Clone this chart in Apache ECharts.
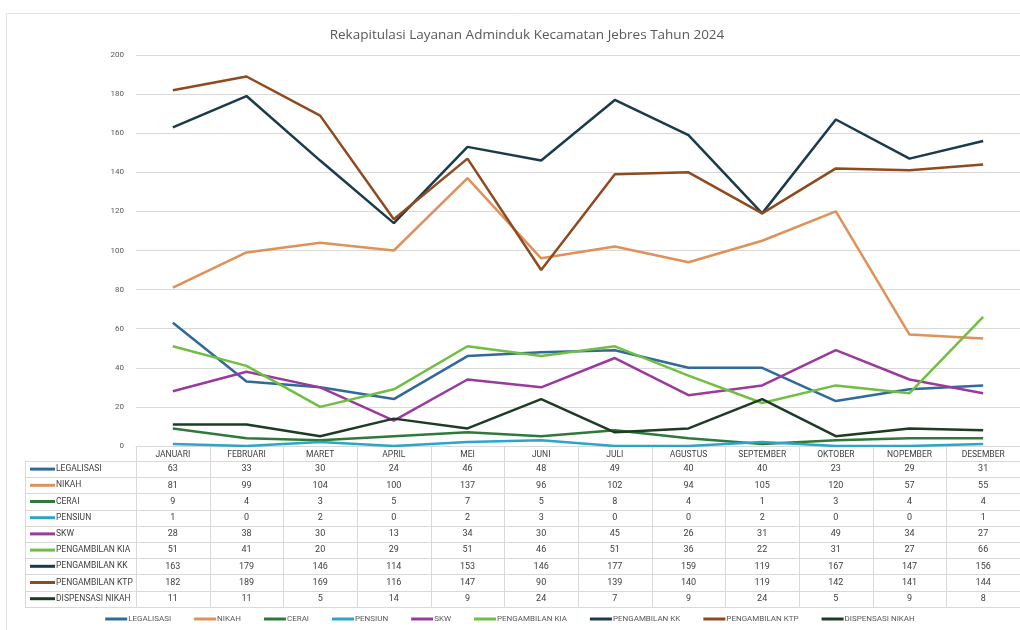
<!DOCTYPE html>
<html>
<head>
<meta charset="utf-8">
<script src="https://cdn.jsdelivr.net/npm/echarts@6/dist/echarts.min.js"></script>
<style>
  html, body { margin: 0; padding: 0; background: #fff; }
  #chart { width: 1020px; height: 630px; }
</style>
</head>
<body>
<div id="chart"></div>
<script>
// data
const months = ['JANUARI', 'FEBRUARI', 'MARET', 'APRIL', 'MEI', 'JUNI', 'JULI', 'AGUSTUS', 'SEPTEMBER', 'OKTOBER', 'NOPEMBER', 'DESEMBER']
const legalisasi = [63, 33, 30, 24, 46, 48, 49, 40, 40, 23, 29, 31]
const nikah = [81, 99, 104, 100, 137, 96, 102, 94, 105, 120, 57, 55]
const cerai = [9, 4, 3, 5, 7, 5, 8, 4, 1, 3, 4, 4]
const pensiun = [1, 0, 2, 0, 2, 3, 0, 0, 2, 0, 0, 1]
const skw = [28, 38, 30, 13, 34, 30, 45, 26, 31, 49, 34, 27]
const kia = [51, 41, 20, 29, 51, 46, 51, 36, 22, 31, 27, 66]
const kk = [163, 179, 146, 114, 153, 146, 177, 159, 119, 167, 147, 156]
const ktp = [182, 189, 169, 116, 147, 90, 139, 140, 119, 142, 141, 144]
const dispensasi = [11, 11, 5, 14, 9, 24, 7, 9, 24, 5, 9, 8]

const seriesNames = ['LEGALISASI', 'NIKAH', 'CERAI', 'PENSIUN', 'SKW', 'PENGAMBILAN KIA', 'PENGAMBILAN KK', 'PENGAMBILAN KTP', 'DISPENSASI NIKAH']
const seriesData = [legalisasi, nikah, cerai, pensiun, skw, kia, kk, ktp, dispensasi]
const colors = ['#30699a', '#e0915a', '#2e7a3a', '#2ba6c8', '#9b3a9e', '#70bf42', '#1b3a4b', '#8f4a1f', '#1e3b24']

const txt = '#404040'
const gridCol = '#d9d9d9'
const font = 'Roboto, "Liberation Sans", sans-serif'

const chart = echarts.init(document.getElementById('chart'))

chart.setOption({
    animation: false,
    color: colors,
    textStyle: { fontFamily: font },
    title: {
        text: 'Rekapitulasi Layanan Adminduk Kecamatan Jebres Tahun 2024',
        left: 522,
        textAlign: 'center',
        top: 23,
        textStyle: { color: '#595959', fontSize: 13.5, fontWeight: 'normal', fontFamily: '"Open Sans", sans-serif' }
    },
    grid: { left: 136, right: -5, top: 55, bottom: 184 },
    xAxis: {
        type: 'category',
        data: months,
        boundaryGap: true,
        axisLine: { lineStyle: { color: gridCol } },
        axisTick: { show: false },
        axisLabel: { color: txt, fontSize: 8.5, margin: 4, interval: 0 }
    },
    yAxis: {
        type: 'value',
        min: 0,
        max: 200,
        interval: 20,
        axisLabel: { color: '#595959', fontSize: 8, margin: 12 },
        splitLine: { lineStyle: { color: gridCol } }
    },
    legend: {
        data: seriesNames,
        bottom: 2,
        left: 'center',
        icon: 'rect',
        itemWidth: 22,
        itemHeight: 3,
        itemGap: 23,
        textStyle: { color: '#595959', fontSize: 8, padding: [0, 0, 0, -4] }
    },
    series: seriesData.map((d, i) => ({
        name: seriesNames[i],
        type: 'line',
        data: d,
        symbol: 'none',
        lineStyle: { width: 2.5, color: colors[i] },
        z: 2 + i
    }))
})

// data table under the axis
const c0 = chart.convertToPixel({ xAxisIndex: 0 }, months[0])
const c1 = chart.convertToPixel({ xAxisIndex: 0 }, months[1])
const step = c1 - c0
const axisY = chart.convertToPixel({ yAxisIndex: 0 }, 0)
const headH = 15
const rowH = 16.2
const tableTop = axisY + headH
const tableBottom = tableTop + rowH * seriesNames.length
const labelLeft = 25
const rightEdge = 1020

const g = []
// vertical lines
for (let k = 0; k <= months.length; k++) {
    const x = Math.round(c0 - step / 2 + k * step) + 0.5
    g.push({ type: 'line', shape: { x1: x, y1: axisY, x2: x, y2: tableBottom }, style: { stroke: gridCol, lineWidth: 1 }, silent: true })
}
g.push({ type: 'line', shape: { x1: labelLeft + 0.5, y1: tableTop, x2: labelLeft + 0.5, y2: tableBottom }, style: { stroke: gridCol, lineWidth: 1 }, silent: true })
// horizontal lines
for (let r = 0; r <= seriesNames.length; r++) {
    const y = Math.round(tableTop + r * rowH) + 0.5
    g.push({ type: 'line', shape: { x1: labelLeft, y1: y, x2: rightEdge, y2: y }, style: { stroke: gridCol, lineWidth: 1 }, silent: true })
}
// row labels and values
seriesNames.forEach((name, r) => {
    const cy = tableTop + (r + 0.5) * rowH
    g.push({ type: 'line', shape: { x1: 30, y1: cy, x2: 55, y2: cy }, style: { stroke: colors[r], lineWidth: 3 }, silent: true })
    g.push({ type: 'text', x: 56, y: cy, style: { text: name, fill: txt, fontSize: 8.5, fontFamily: font, verticalAlign: 'middle', textAlign: 'left' }, silent: true })
    seriesData[r].forEach((v, k) => {
        const cx = chart.convertToPixel({ xAxisIndex: 0 }, months[k])
        g.push({ type: 'text', x: cx, y: cy, style: { text: String(v), fill: txt, fontSize: 9, fontFamily: font, verticalAlign: 'middle', textAlign: 'center' }, silent: true })
    })
})
// chart frame
g.push({ type: 'rect', shape: { x: 6.5, y: 13.5, width: 1030, height: 620 }, style: { fill: 'none', stroke: '#e3e3e3', lineWidth: 1 }, silent: true, z: -1 })

chart.setOption({ graphic: g })
</script>
</body>
</html>
